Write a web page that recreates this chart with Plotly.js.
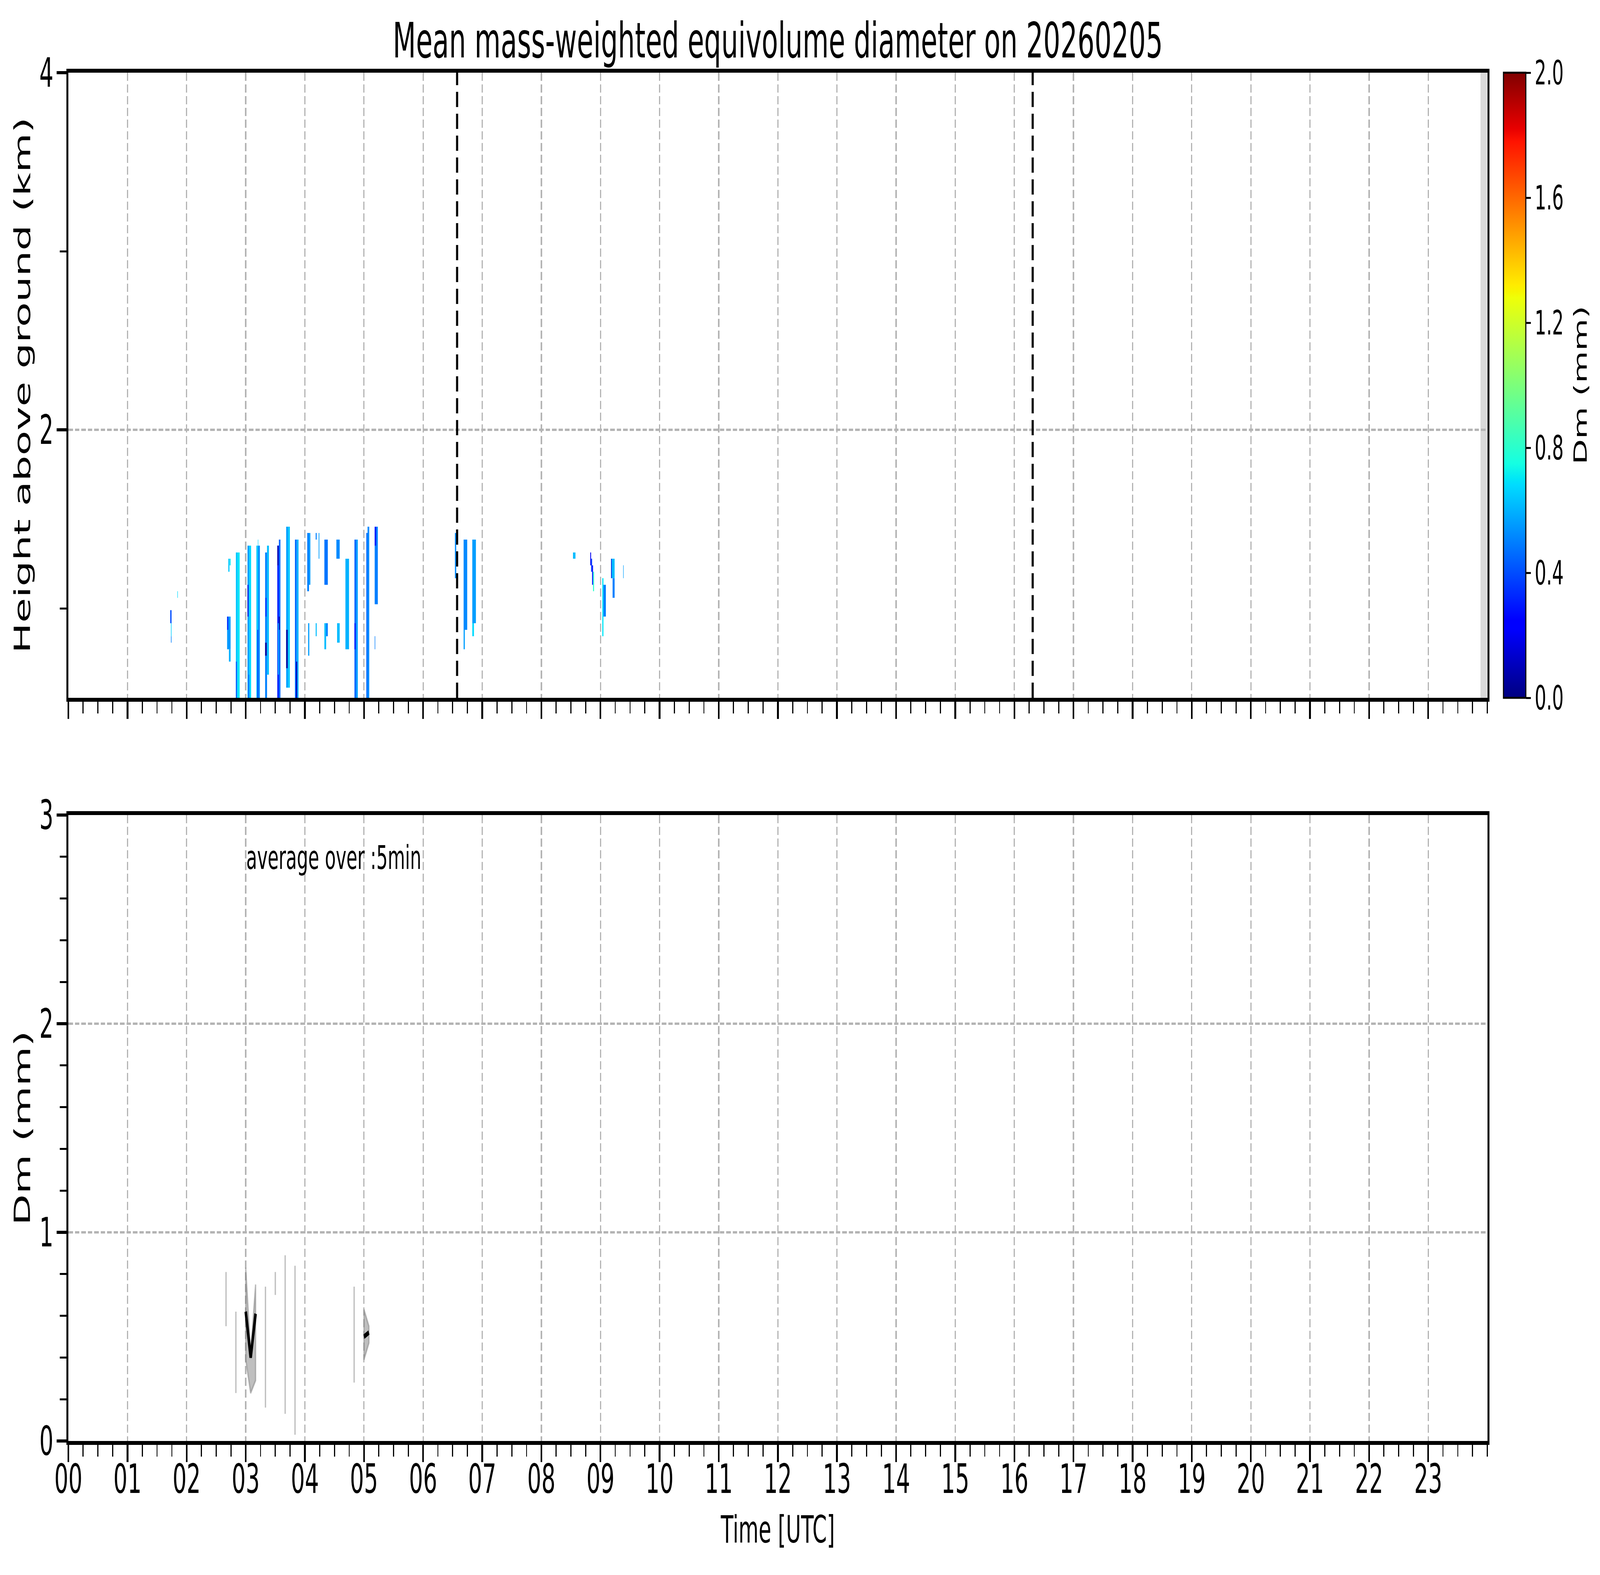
<!DOCTYPE html>
<html><head><meta charset="utf-8">
<script src="https://cdn.plot.ly/plotly-3.0.1.min.js"></script>
<style>html,body{margin:0;padding:0;background:#fff;overflow:hidden}#wrap{width:7442px;height:4031px;transform-origin:0 0}</style>
</head><body><div id="wrap"><div id="chart" style="width:7442px;height:4031px"></div></div>
<script>
// ---------- Top panel: Dm time-height cells (start/end time in h, bottom/top height in km, Dm in mm)
const segStart  = [1.723,1.735,1.735,1.843, 2.705,2.728,2.685,2.685,2.715, 2.833,2.865,2.833, 3.030,3.060,3.030,3.045, 3.180,3.210,3.195,3.205, 3.328,3.360,3.328,3.335, 3.534,3.560,3.534,3.560,3.545, 3.684,3.715,3.684, 3.832,3.862,3.850, 4.040,4.070,4.055, 4.183,4.183,4.233, 4.330,4.330,4.360, 4.533,4.545, 4.686, 4.839,4.867,4.839, 5.039,5.060, 5.181,5.181,5.181, 6.538, 6.685,6.685, 6.832,6.832, 8.535, 8.827,8.841,8.858,8.874, 9.030,9.050, 9.180,9.205,9.180, 9.384];
const segEnd    = [1.745,1.745,1.745,1.851, 2.725,2.744,2.744,2.705,2.744, 2.865,2.897,2.850, 3.060,3.091,3.045,3.060, 3.210,3.239,3.210,3.212, 3.360,3.392,3.355,3.350, 3.560,3.587,3.555,3.575,3.560, 3.715,3.746,3.710, 3.862,3.893,3.870, 4.070,4.093,4.075, 4.200,4.200,4.245, 4.388,4.360,4.388, 4.589,4.589, 4.747, 4.867,4.895,4.860, 5.060,5.089, 5.234,5.205,5.190, 6.560, 6.746,6.705, 6.893,6.860, 8.577, 8.841,8.858,8.874,8.891, 9.050,9.091, 9.239,9.239,9.190, 9.392];
const segBottom = [0.918,0.845,0.809,1.060, 1.206,1.242,0.772,0.881,0.703, 0.5,0.5,0.5, 0.5,0.5,0.955,0.5, 0.5,0.5,0.5,1.352, 0.5,0.630,0.736,0.955, 0.5,0.5,1.242,0.881,0.630, 0.557,0.557,0.666, 0.5,0.5,0.5, 1.097,1.133,0.736, 1.386,0.845,1.279, 1.133,0.772,0.845, 1.279,0.809, 0.772, 0.5,0.5,0.772, 0.5,0.5, 1.024,1.352,0.772, 1.170, 0.881,0.772, 0.918,0.845, 1.279, 1.242,1.206,1.133,1.097, 0.845,0.955, 1.170,1.060,1.170, 1.170];
const segTop    = [0.991,0.918,0.845,1.097, 1.279,1.279,0.955,0.955,0.772, 1.314,1.314,0.703, 1.352,1.352,1.133,0.630, 1.352,1.352,0.881,1.386, 1.314,1.352,0.809,1.060, 1.352,1.386,1.352,0.955,0.918, 1.458,1.458,0.881, 1.386,1.386,0.703, 1.423,1.423,0.918, 1.423,0.918,1.423, 1.386,0.918,0.918, 1.386,0.918, 1.279, 1.386,1.386,0.918, 1.423,1.458, 1.458,1.458,0.845, 1.423, 1.386,0.881, 1.386,0.918, 1.314, 1.314,1.279,1.242,1.206, 1.170,1.133, 1.279,1.170,1.279, 1.242];
const segDm     = [0.40,0.66,0.50,0.68, 0.64,0.70,0.55,0.32,0.60, 0.64,0.70,0.42, 0.56,0.68,0.15,0.45, 0.64,0.52,0.36,0.66, 0.50,0.62,0.05,0.30, 0.30,0.46,0.08,0.05,0.62, 0.56,0.64,0.05, 0.46,0.60,0.10, 0.50,0.56,0.56, 0.50,0.62,0.56, 0.48,0.62,0.50, 0.52,0.62, 0.60, 0.44,0.56,0.30, 0.46,0.52, 0.50,0.30,0.50, 0.52, 0.52,0.56, 0.56,0.68, 0.62, 0.20,0.36,0.26,0.80, 0.70,0.50, 0.62,0.50,0.15, 0.56];

// vertical reference times (h) and no-data interval
const markerTimes = [6.575, 16.31];
const noDataStart = 23.884, noDataEnd = 24;

// ---------- Bottom panel: 5-min averages of Dm (mm)
const avgTime = [2.6667, 2.8333, 3.0, 3.0833, 3.1667, 3.3333, 3.5, 3.6667, 3.8333, 4.8333, 5.0, 5.0833];
const avgMean = [null, null, 0.62, 0.40, 0.61, null, null, null, null, null, 0.50, 0.52];
const avgLow  = [0.55, 0.23, 0.39, 0.23, 0.29, 0.16, 0.70, 0.13, 0.03, 0.28, 0.39, 0.47];
const avgHigh = [0.81, 0.62, 0.83, 0.42, 0.75, 0.74, 0.81, 0.89, 0.84, 0.74, 0.63, 0.55];

// tick labels
const hourTicks = [0,1,2,3,4,5,6,7,8,9,10,11,12,13,14,15,16,17,18,19,20,21,22,23];
const hourLabels = ['00','01','02','03','04','05','06','07','08','09','10','11','12','13','14','15','16','17','18','19','20','21','22','23'];
const cbTicks = [0, 0.4, 0.8, 1.2, 1.6, 2.0];
const cbLabels = ['0.0','0.4','0.8','1.2','1.6','2.0'];

// matplotlib "jet"
const jet = [[0,'rgb(0,0,128)'],[0.11,'rgb(0,0,255)'],[0.125,'rgb(0,0,255)'],[0.34,'rgb(0,219,255)'],[0.35,'rgb(0,230,247)'],[0.375,'rgb(21,255,226)'],[0.64,'rgb(239,255,8)'],[0.65,'rgb(247,245,0)'],[0.66,'rgb(255,236,0)'],[0.89,'rgb(255,19,0)'],[0.91,'rgb(232,0,0)'],[1,'rgb(128,0,0)']];

const W0 = 7442, H0 = 4031;
const FONT = 'DejaVu Sans, Liberation Sans, sans-serif';
const traces = [];

traces.push({
  type:'bar', xaxis:'x', yaxis:'y',
  x: segStart.map((s,i)=>(s+segEnd[i])/2),
  width: segStart.map((s,i)=>segEnd[i]-s),
  base: segBottom,
  y: segTop.map((t,i)=>t-segBottom[i]),
  marker:{color:segDm, colorscale:jet, cmin:0, cmax:2, line:{width:0}, showscale:true,
    colorbar:{x:1.0114, xanchor:'left', xref:'paper', xpad:0, y:1, yanchor:'top', yref:'paper', ypad:0,
      len:0.4569, lenmode:'fraction', thickness:104, thicknessmode:'pixels',
      outlinewidth:5, outlinecolor:'black', ticks:'outside', ticklen:22, tickwidth:5, tickcolor:'black',
      tickmode:'array', tickvals:cbTicks, ticktext:cbLabels, tickfont:{size:85, family:FONT, color:'black'}}},
  hoverinfo:'skip'
});

// vertical reference lines
markerTimes.forEach(t=>{
  traces.push({type:'scatter', mode:'lines', xaxis:'x', yaxis:'y', x:[t,t], y:[0.5,4],
    line:{color:'black', width:10, dash:'39px,17px'}, hoverinfo:'skip'});
});

// bottom panel: group consecutive 5-min points
const groups = []; let cur = [];
avgTime.forEach((t,i)=>{
  if (cur.length && t - avgTime[cur[cur.length-1]] > 0.09) { groups.push(cur); cur = []; }
  cur.push(i);
});
if (cur.length) groups.push(cur);

groups.forEach(g=>{
  const xs = g.map(i=>avgTime[i]);
  const hi = g.map(i=>avgHigh[i]);
  const lo = g.map(i=>avgLow[i]);
  traces.push({type:'scatter', mode:'lines', xaxis:'x2', yaxis:'y2',
    x: xs.concat(xs.slice().reverse(), [xs[0]]),
    y: hi.concat(lo.slice().reverse(), [hi[0]]),
    fill:'toself', fillcolor:'rgba(128,128,128,0.5)',
    line:{color:'rgba(128,128,128,0.5)', width:6}, hoverinfo:'skip'});
});
groups.forEach(g=>{
  if (g.length < 2) return;
  traces.push({type:'scatter', mode:'lines', xaxis:'x2', yaxis:'y2',
    x: g.map(i=>avgTime[i]), y: g.map(i=>avgMean[i]),
    line:{color:'black', width:12}, hoverinfo:'skip'});
});

const gridCommon = {showgrid:true, gridcolor:'#b4b4b4', gridwidth:6, griddash:'21px,9px', zeroline:false,
  showline:true, linecolor:'black', linewidth:10, mirror:true,
  ticks:'outside', ticklen:44, tickwidth:8, tickcolor:'black',
  tickfont:{size:103, family:FONT, color:'black'}};

const xMinor = {dtick:0.25, tick0:0, ticks:'outside', ticklen:30, tickwidth:5, tickcolor:'black', showgrid:false};

const layout = {
  width:W0, height:H0,
  margin:{l:318, r:524, t:186, b:343, pad:0},
  paper_bgcolor:'white', plot_bgcolor:'white',
  font:{family:FONT, color:'black', size:103},
  showlegend:false, barmode:'overlay',
  title:{text:'Mean mass-weighted equivolume diameter on 20260205', font:{size:125, family:FONT, color:'black'},
    x:0.5, xref:'paper', xanchor:'center', y:1-103/4031, yref:'container', yanchor:'middle'},
  xaxis:Object.assign({}, gridCommon, {domain:[0,1], anchor:'y', range:[0,24], tickmode:'array', tickvals:hourTicks,
    showticklabels:false, minor:xMinor}),
  yaxis:Object.assign({}, gridCommon, {domain:[0.5431,1], anchor:'x', range:[0.5,4], tickmode:'array', tickvals:[2,4], ticktext:['2','4'],
    minor:{tickmode:'array', tickvals:[1,3], ticks:'outside', ticklen:30, tickwidth:5, tickcolor:'black', showgrid:false},
    ticklabelstandoff:-5,
    title:{text:'Height above ground (km)', font:{size:104, family:FONT, color:'black'}, standoff:12}}),
  xaxis2:Object.assign({}, gridCommon, {domain:[0,1], anchor:'y2', range:[0,24], tickmode:'array', tickvals:hourTicks, ticktext:hourLabels,
    minor:xMinor, ticklabelstandoff:-45,
    title:{text:'Time [UTC]', font:{size:96, family:FONT, color:'black'}, standoff:41}}),
  yaxis2:Object.assign({}, gridCommon, {domain:[0,0.4574], anchor:'x2', range:[0,3], tickmode:'array', tickvals:[0,1,2,3],
    minor:{dtick:0.2, tick0:0, ticks:'outside', ticklen:30, tickwidth:5, tickcolor:'black', showgrid:false},
    ticklabelstandoff:-5,
    title:{text:'Dm (mm)', font:{size:104, family:FONT, color:'black'}, standoff:12}}),
  shapes:[{type:'rect', xref:'x', yref:'y domain', x0:noDataStart, x1:noDataEnd, y0:0, y1:1,
    fillcolor:'#d9d9d9', line:{width:0}, layer:'below'}],
  annotations:[
    {text:'average over :5min', xref:'x2', yref:'y2 domain', x:3, y:0.9, xanchor:'left', yanchor:'bottom',
     showarrow:false, font:{size:83, family:FONT, color:'black'}},
    {text:'Dm (mm)', xref:'paper', yref:'paper', x:1.0655, y:0.7716, xanchor:'center', yanchor:'middle', textangle:-90,
     showarrow:false, font:{size:85, family:FONT, color:'black'}}
  ]
};

Plotly.newPlot('chart', traces, layout, {staticPlot:true, displayModeBar:false}).then(()=>{
  // the browser window may be narrower than the 7442 x 4031 design: map the design onto the whole viewport
  const vw = window.innerWidth || W0, vh = window.innerHeight || H0;
  const sx = vw / W0, sy = vh / H0;
  if (Math.abs(sx - 1) > 1e-3 || Math.abs(sy - 1) > 1e-3) {
    document.getElementById('wrap').style.transform = `scale(${sx},${sy})`;
  }
});
</script></body></html>
